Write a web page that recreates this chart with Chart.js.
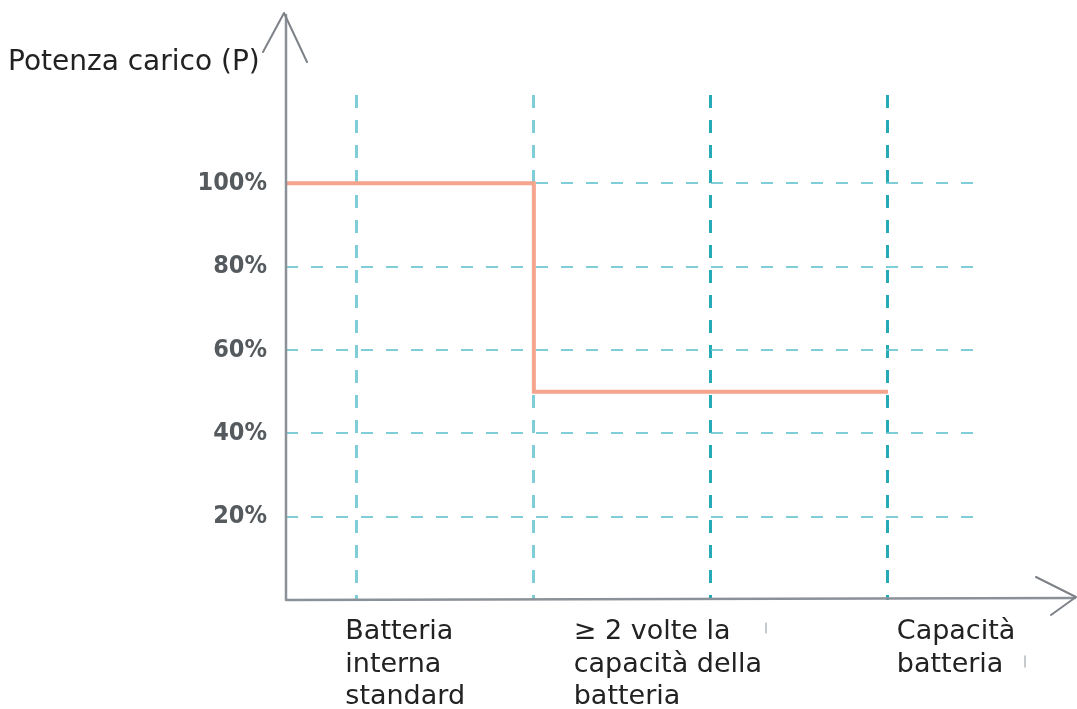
<!DOCTYPE html>
<html>
<head>
<meta charset="utf-8">
<script src="https://cdn.jsdelivr.net/npm/chart.js@4/dist/chart.umd.min.js"></script>
<style>
  html, body { margin: 0; padding: 0; background: #fff; }
</style>
</head>
<body>
<canvas id="potenzaChart" width="1077" height="709"></canvas>
<script>
// curva a gradino: potenza del carico in funzione della capacità batteria
const stepX = [0, 2.8, 2.8, 6.8];
const stepY = [100, 100, 50, 50];
const yTicks = [20, 40, 60, 80, 100];
const gridX = [0.8, 2.8, 4.8, 6.8];
const labelX = [0.67, 3.25, 6.9];
const categories = [
    ["Batteria", "interna", "standard"],
    ["≥ 2 volte la", "capacità della", "batteria"],
    ["Capacità", "batteria"],
];
const yTitle = "Potenza carico (P)";

const tealLight = "rgba(105, 198, 208, 0.85)";
const tealDark = "rgba(25, 165, 178, 0.95)";

// assi con frecce e titolo dell'asse y
const axesArrows = {
    id: "axesArrows",
    afterDraw(chart) {
        const { ctx, chartArea: a } = chart;
        ctx.save();
        ctx.strokeStyle = "#8b9198";
        ctx.lineWidth = 2.5;
        ctx.lineCap = "round";
        ctx.lineJoin = "round";
        ctx.beginPath();
        ctx.moveTo(a.left, a.bottom);
        ctx.lineTo(a.left, 15);
        ctx.moveTo(a.left, a.bottom);
        ctx.lineTo(1075, a.bottom - 2);
        ctx.stroke();

        ctx.lineWidth = 2;
        ctx.strokeStyle = "#7d8288";
        ctx.beginPath();
        ctx.moveTo(a.left - 23, 52);
        ctx.lineTo(a.left - 2, 13);
        ctx.lineTo(a.left + 21, 62);
        ctx.moveTo(1036, a.bottom - 23);
        ctx.lineTo(1076, a.bottom - 3);
        ctx.lineTo(1051, a.bottom + 15);
        ctx.stroke();

        // piccoli segni residui
        ctx.lineWidth = 1.5;
        ctx.strokeStyle = "#b5b9bd";
        ctx.beginPath();
        ctx.moveTo(766, 623);
        ctx.lineTo(766, 633);
        ctx.moveTo(1025, 656);
        ctx.lineTo(1025, 667);
        ctx.stroke();

        ctx.fillStyle = "#222";
        ctx.font = "28px 'DejaVu Sans'";
        ctx.textAlign = "left";
        ctx.textBaseline = "alphabetic";
        ctx.fillText(yTitle, 8, 70);
        ctx.restore();
    },
};

new Chart(document.getElementById("potenzaChart"), {
    type: "line",
    data: {
        datasets: [
            {
                label: "Potenza",
                data: stepX.map((x, i) => ({ x: x, y: stepY[i] })),
                borderColor: "#f5a48d",
                borderWidth: 4,
                pointRadius: 0,
                tension: 0,
            },
        ],
    },
    options: {
        responsive: false,
        animation: false,
        layout: {
            padding: { top: 95, right: 97, left: 0, bottom: 0 },
        },
        plugins: {
            legend: { display: false },
            tooltip: { enabled: false },
        },
        scales: {
            x: {
                type: "linear",
                min: 0,
                max: 7.84,
                z: 1,
                afterBuildTicks: (scale) => {
                    scale.ticks = gridX.map((v) => ({ value: v }));
                },
                afterFit: (scale) => {
                    scale.height = 0;
                },
                ticks: { display: false },
                grid: {
                    color: (c) => (c.index < 2 ? tealLight : tealDark),
                    lineWidth: 3,
                    drawTicks: false,
                },
                border: { display: false, dash: [13, 12] },
            },
            x2: {
                type: "linear",
                position: "bottom",
                min: 0,
                max: 7.84,
                afterBuildTicks: (scale) => {
                    scale.ticks = labelX.map((v) => ({ value: v }));
                },
                afterFit: (scale) => {
                    scale.height = 109;
                },
                ticks: {
                    callback: (v, i) => categories[i],
                    align: "start",
                    autoSkip: false,
                    maxRotation: 0,
                    padding: 16,
                    color: "#222",
                    font: { family: "DejaVu Sans", size: 27, lineHeight: 1.2 },
                },
                grid: { display: false, drawTicks: false },
                border: { display: false },
            },
            y: {
                min: 0,
                max: 121.2,
                z: 1,
                afterBuildTicks: (scale) => {
                    scale.ticks = yTicks.map((v) => ({ value: v }));
                },
                afterFit: (scale) => {
                    scale.width = 286;
                },
                ticks: {
                    callback: (v) => v + "%",
                    padding: 19,
                    color: "#555a5e",
                    font: { family: "'DejaVu Sans Condensed', 'DejaVu Sans'", size: 25, weight: "bold" },
                },
                grid: {
                    color: tealLight,
                    lineWidth: 2,
                    drawTicks: false,
                },
                border: { display: false, dash: [12, 13] },
            },
        },
    },
    plugins: [axesArrows],
});
</script>
</body>
</html>
